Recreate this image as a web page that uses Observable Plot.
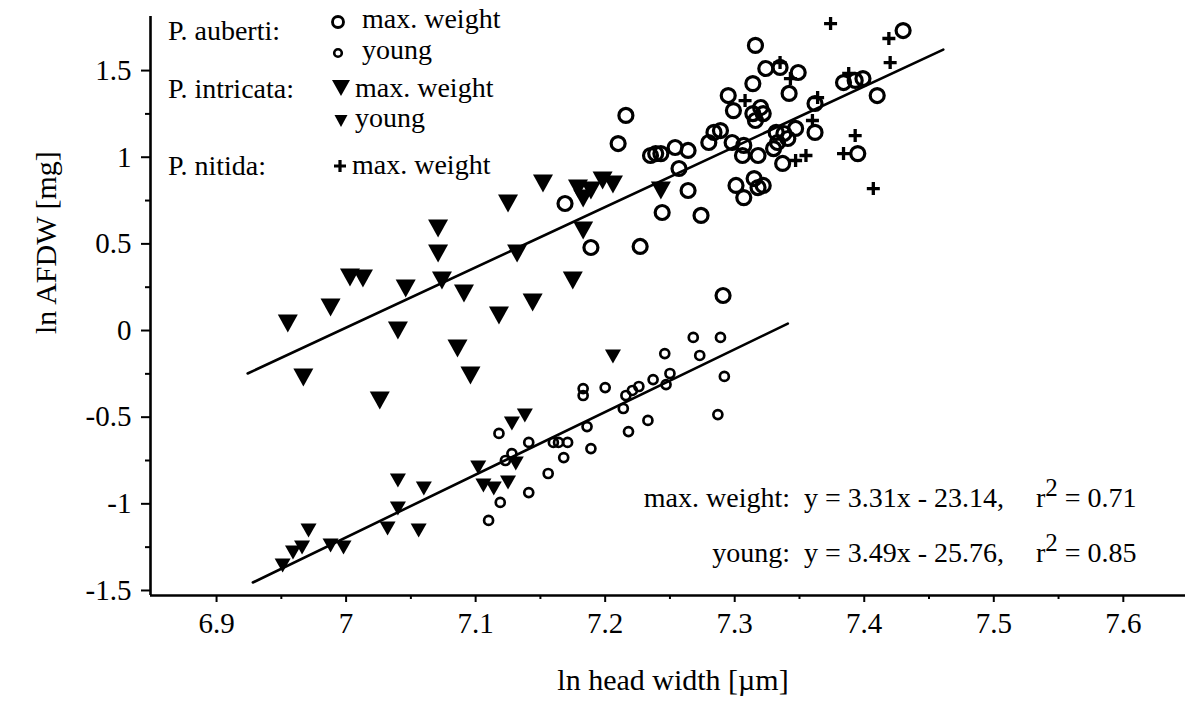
<!DOCTYPE html>
<html><head><meta charset="utf-8">
<script src="https://cdn.jsdelivr.net/npm/d3@7"></script>
<script src="https://cdn.jsdelivr.net/npm/@observablehq/plot@0.6"></script>
<style>
html,body{margin:0;padding:0;background:#fff;}
#wrap{position:relative;width:1192px;height:701px;font-family:"Liberation Serif","Times New Roman",serif;color:#000;}
#wrap svg.over{position:absolute;left:0;top:0;pointer-events:none;}
</style></head><body><div id="wrap"></div>
<script>
// ---- data (ln head width [µm], ln AFDW [mg]) ----
const aubertiMax = [[7.430,1.731],[7.316,1.645],[7.324,1.512],[7.335,1.518],[7.349,1.489],[7.314,1.425],[7.342,1.368],[7.295,1.356],[7.299,1.269],[7.320,1.287],[7.322,1.252],[7.314,1.252],[7.316,1.212],[7.384,1.431],[7.393,1.443],[7.399,1.454],[7.410,1.356],[7.362,1.310],[7.362,1.143],[7.347,1.166],[7.338,1.137],[7.332,1.143],[7.333,1.085],[7.341,1.108],[7.284,1.143],[7.289,1.154],[7.280,1.085],[7.298,1.085],[7.307,1.068],[7.306,1.010],[7.318,1.010],[7.330,1.050],[7.337,0.964],[7.264,1.039],[7.264,0.808],[7.274,0.664],[7.301,0.837],[7.307,0.767],[7.315,0.877],[7.318,0.825],[7.322,0.837],[7.395,1.021],[7.216,1.241],[7.210,1.079],[7.235,1.010],[7.239,1.021],[7.243,1.021],[7.254,1.056],[7.257,0.935],[7.169,0.733],[7.189,0.479],[7.227,0.485],[7.244,0.681],[7.291,0.202]];
const aubertiYoung = [[7.110,-1.096],[7.119,-0.992],[7.141,-0.935],[7.156,-0.825],[7.168,-0.733],[7.189,-0.681],[7.118,-0.594],[7.141,-0.646],[7.128,-0.710],[7.123,-0.750],[7.160,-0.646],[7.164,-0.646],[7.171,-0.646],[7.186,-0.554],[7.183,-0.335],[7.183,-0.375],[7.200,-0.329],[7.214,-0.450],[7.218,-0.583],[7.233,-0.519],[7.216,-0.375],[7.221,-0.346],[7.226,-0.323],[7.237,-0.283],[7.247,-0.312],[7.250,-0.248],[7.246,-0.133],[7.268,-0.040],[7.289,-0.040],[7.273,-0.144],[7.292,-0.265],[7.287,-0.485]];
const intricataMax = [[6.955,0.040],[6.988,0.133],[7.003,0.306],[7.013,0.300],[7.040,0.000],[7.046,0.242],[6.967,-0.271],[7.026,-0.404],[7.071,0.589],[7.071,0.444],[7.074,0.289],[7.091,0.214],[7.086,-0.104],[7.096,-0.260],[7.118,0.087],[7.125,0.733],[7.132,0.444],[7.144,0.162],[7.152,0.848],[7.175,0.289],[7.179,0.819],[7.189,0.808],[7.183,0.762],[7.183,0.577],[7.206,0.842],[7.198,0.866],[7.243,0.808]];
const intricataYoung = [[6.951,-1.356],[6.959,-1.281],[6.966,-1.252],[6.971,-1.154],[6.988,-1.241],[6.998,-1.252],[7.032,-1.143],[7.056,-1.154],[7.040,-1.027],[7.040,-0.866],[7.060,-0.912],[7.102,-0.791],[7.106,-0.894],[7.114,-0.912],[7.125,-0.877],[7.131,-0.767],[7.128,-0.537],[7.138,-0.490],[7.206,-0.150]];
const nitidaMax = [[7.374,1.771],[7.419,1.685],[7.420,1.546],[7.393,1.125],[7.384,1.021],[7.407,0.819],[7.355,1.010],[7.347,0.981],[7.364,1.344],[7.360,1.212],[7.335,1.546],[7.308,1.327],[7.388,1.483],[7.343,1.454]];
const fitMax = [{x:6.924,y:-0.248},{x:7.461,y:1.621}];
const fitYoung = [{x:6.928,y:-1.454},{x:7.341,y:0.040}];
const xTicks = [6.9,7,7.1,7.2,7.3,7.4,7.5,7.6];
const xMinor = [6.95,7.05,7.15,7.25,7.35,7.45,7.55];
const yTicks = [-1.5,-1,-0.5,0,0.5,1,1.5];
const yMinor = [-1.25,-0.75,-0.25,0.25,0.75,1.25];
const xLabel = "ln head width [µm]";
const yLabel = "ln AFDW [mg]";
const equations = [
  {label:"max. weight:", eq:"y = 3.31x - 23.14,", r2:"0.71"},
  {label:"young:", eq:"y = 3.49x - 25.76,", r2:"0.85"}
];

// ---- symbols ----
const triDown = (w,h) => ({draw(ctx){ctx.moveTo(-w/2,-h/2);ctx.lineTo(w/2,-h/2);ctx.lineTo(0,h/2);ctx.closePath();}});
const plusSym = (s) => ({draw(ctx){ctx.moveTo(-s,0);ctx.lineTo(s,0);ctx.moveTo(0,-s);ctx.lineTo(0,s);}});
const X = d => d[0], Y = d => d[1];

const FONT = "Liberation Serif, Times New Roman, serif";
const plot = Plot.plot({
  width:1192, height:701,
  marginLeft:150, marginRight:7, marginTop:16, marginBottom:106,
  x:{domain:[6.849,7.648]},
  y:{domain:[-1.529,1.812]},
  style:{fontFamily:FONT, background:"white", color:"black", overflow:"visible"},
  marks:[
    Plot.axisX(xTicks,{tickSize:7, tickPadding:10, fontSize:29, strokeWidth:2, tickFormat:d=>String(d), label:null}),
    Plot.axisX(xMinor,{tickSize:4, strokeWidth:2, tickFormat:()=>"", label:null}),
    Plot.axisY(yTicks,{tickSize:9, tickPadding:10, fontSize:29, strokeWidth:2, tickFormat:d=>String(d), label:null}),
    Plot.axisY(yMinor,{tickSize:5, strokeWidth:2, tickFormat:()=>"", label:null}),
    Plot.ruleX([6.849],{strokeWidth:2.6}),
    Plot.ruleY([-1.529],{strokeWidth:2.6}),
    Plot.line(fitMax,{x:"x",y:"y",stroke:"black",strokeWidth:2.6}),
    Plot.line(fitYoung,{x:"x",y:"y",stroke:"black",strokeWidth:2.6}),
    Plot.dot(aubertiMax,{x:X,y:Y,r:7,stroke:"black",strokeWidth:3.2,fill:"none"}),
    Plot.dot(aubertiYoung,{x:X,y:Y,r:4.5,stroke:"black",strokeWidth:2.7,fill:"none"}),
    Plot.dot(intricataMax,{x:X,y:Y,symbol:triDown(20,18),fill:"black",stroke:"none"}),
    Plot.dot(intricataYoung,{x:X,y:Y,symbol:triDown(16,14),fill:"black",stroke:"none"}),
    Plot.dot(nitidaMax,{x:X,y:Y,symbol:plusSym(6.5),fill:"none",stroke:"black",strokeWidth:3.3}),
    Plot.text([xLabel],{frameAnchor:"bottom",dx:5,dy:94,fontSize:30,fill:"black"}),
    Plot.text([yLabel],{frameAnchor:"left",dx:-104,dy:28,rotate:-90,fontSize:30,fill:"black"})
  ]
});
const wrap = document.getElementById("wrap");
wrap.appendChild(plot);

// ---- in-plot legend & equations (overlay) ----
const svg = d3.select(wrap).append("svg").attr("class","over").attr("width",1192).attr("height",701)
  .style("font-family",FONT).style("font-size","28px");
const txt = (x,y,s,anchor="start",size) => {
  const t = svg.append("text").attr("x",x).attr("y",y).attr("text-anchor",anchor).text(s);
  if (size) t.attr("font-size",size);
  return t;
};
txt(168,40,"P. auberti:");
svg.append("circle").attr("cx",338).attr("cy",22).attr("r",5.5).attr("fill","none").attr("stroke","black").attr("stroke-width",2.9);
txt(362,28,"max. weight");
svg.append("circle").attr("cx",338).attr("cy",53).attr("r",3.8).attr("fill","none").attr("stroke","black").attr("stroke-width",2.6);
txt(362,59,"young");
txt(168,98,"P. intricata:");
svg.append("path").attr("transform","translate(341,88)").attr("d",d3.symbol().type(triDown(18,16))()).attr("fill","black");
txt(355,97,"max. weight");
svg.append("path").attr("transform","translate(341,121)").attr("d",d3.symbol().type(triDown(13,12))()).attr("fill","black");
txt(355,127,"young");
txt(168,175,"P. nitida:");
svg.append("path").attr("transform","translate(340,166)").attr("d",d3.symbol().type(plusSym(6))()).attr("fill","none").attr("stroke","black").attr("stroke-width",3.2);
txt(352,174,"max. weight");

equations.forEach((e,i) => {
  const by = 507 + i*55;
  txt(790,by,e.label,"end");
  txt(804,by,e.eq);
  const t = svg.append("text").attr("x",1036).attr("y",by);
  t.append("tspan").text("r");
  t.append("tspan").attr("dy",-11).attr("font-size","25px").text("2");
  t.append("tspan").attr("dy",11).text(" = " + e.r2);
});
</script></body></html>
